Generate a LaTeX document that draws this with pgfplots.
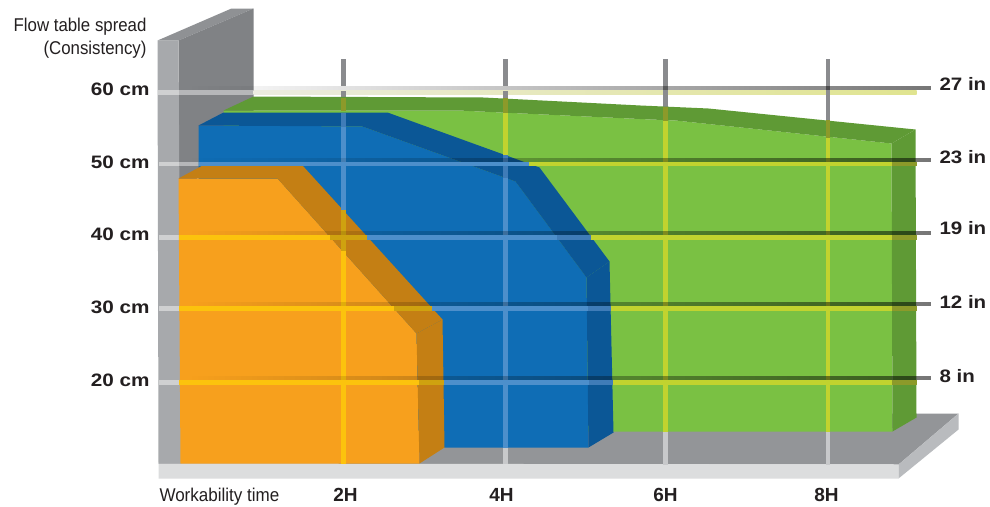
\documentclass[border=0pt]{standalone}
\usepackage{graphicx}
\usepackage{fontspec}
\setmainfont{Liberation Sans}
\usepackage{pgfplots}
\pgfplotsset{compat=1.18}
\usetikzlibrary{fadings}

% Surface colours
\definecolor{ink}{HTML}{231F20}
\definecolor{wallfront}{HTML}{A7A9AC}
\definecolor{wallside}{HTML}{808285}
\definecolor{walltop}{HTML}{8F9194}
\definecolor{floortop}{HTML}{939598}
\definecolor{floorfront}{HTML}{DCDDDE}
\definecolor{floorside}{HTML}{B9BBBE}
\definecolor{greenfront}{HTML}{7AC143}
\definecolor{greendark}{HTML}{5F9A35}
\definecolor{bluefront}{HTML}{0F6DB5}
\definecolor{bluedark}{HTML}{0B5796}
\definecolor{orangefront}{HTML}{F7A01D}
\definecolor{orangedark}{HTML}{C47F14}
% Grid colours where a line crosses each surface
\definecolor{gridgrey}{HTML}{8A8B8E}
\definecolor{gridwall}{HTML}{CFD0D1}
\definecolor{gridwallside}{HTML}{B6B7B9}
\definecolor{gridfloor}{HTML}{C8C9CB}
\definecolor{gridorange}{HTML}{FCC30D}
\definecolor{gridorangedark}{HTML}{CFA20F}
\definecolor{gridblue}{HTML}{4D8FCB}
\definecolor{gridbluedark}{HTML}{3F7CB8}
\definecolor{gridgreen}{HTML}{C1D32F}
\definecolor{gridgreendark}{HTML}{8C9A2A}
\definecolor{topbandleft}{HTML}{EBEBE0}
\definecolor{topbandright}{HTML}{E0E48F}

% Horizontal back lines darken towards the right
\tikzfading[name=backline, left color=transparent!100, right color=transparent!46]

\tikzset{lbl/.style={inner sep=0pt, outer sep=0pt, text=ink}}

% rectangle: x1 x2 y1 y2 colour
\newcommand{\band}[5]{\addplot[draw=none,fill=#5] coordinates {(#1,#3)(#2,#3)(#2,#4)(#1,#4)} -- cycle;}
% dark back line: y1 y2
\newcommand{\backline}[2]{\addplot[draw=none,fill=black,path fading=backline] coordinates {(190,#1)(932,#1)(932,#2)(190,#2)} -- cycle;}

% text helpers: size, horizontal stretch, text
\newcommand{\lab}[3]{\fontsize{#1}{#1}\selectfont\scalebox{#2}[1]{#3}}
\newcommand{\boldlab}[3]{\fontsize{#1}{#1}\selectfont\scalebox{#2}[1]{\bfseries #3}}

\begin{document}
\begin{tikzpicture}
\begin{axis}[
  scale only axis, width=990pt, height=506pt,
  xmin=-0.5, xmax=989.5, ymin=-0.5, ymax=505.5, y dir=reverse,
  hide axis, clip=false,
]
% page extent
\addplot[draw=none,fill=white] coordinates {(-0.5,-0.5)(989.5,-0.5)(989.5,505.5)(-0.5,505.5)} -- cycle;

% floor slab
\addplot[draw=none,fill=floortop] coordinates {(158,463)(898,464)(958,413)(200,413)} -- cycle;
\addplot[draw=none,fill=floorfront] coordinates {(158,463)(898,464)(898,478)(158,478)} -- cycle;
\addplot[draw=none,fill=floorside] coordinates {(898,464)(958,413)(958,429)(898,478)} -- cycle;

% wall
\addplot[draw=none,fill=walltop] coordinates {(157,40)(231,8)(253,8)(178,40)} -- cycle;
\addplot[draw=none,fill=wallside] coordinates {(178,40)(253,8)(253,110)(178,200)} -- cycle;
\addplot[draw=none,fill=wallfront] coordinates {(157,40)(178,40)(180.5,463)(158,463)} -- cycle;

% grid lines on the wall
\band{157.5}{178}{89.5}{94}{gridwall}
\band{178}{253}{89.5}{94}{gridwallside}
\band{158}{178}{161}{165}{gridwall}
\band{178}{198}{161}{165}{gridwallside}
\band{158}{178}{234}{239}{gridwall}
\band{158}{178}{305}{310}{gridwall}
\band{158}{178}{379}{384}{gridwall}

% floor grid lines
\band{502}{507}{447}{463.5}{gridfloor}
\band{662}{667}{431}{464}{gridfloor}
\band{825}{829}{431}{464}{gridfloor}

% top band at 60 cm
\addplot[draw=none,left color=topbandleft,right color=topbandright] coordinates {(253,89.5)(916,89.5)(916,94)(253,94)} -- cycle;

% verticals above the volumes
\band{340}{345.5}{58}{85}{gridgrey}
\band{340}{345.5}{90}{97}{gridgrey}
\band{502}{507}{58}{85}{gridgrey}
\band{502}{507}{90}{97}{gridgrey}
\band{662}{667}{58}{106}{gridgrey}
\band{825}{829}{58}{119}{gridgrey}

% green volume
\addplot[draw=none,fill=greenfront] coordinates {(223,110)(458,110)(650,119)(675,120)(891,143)(892,431)(560,431)(560,300)(223,300)} -- cycle;
\addplot[draw=none,fill=greendark] coordinates {(223,110)(253,96)(483,97)(640,105)(708,108)(915,129)(891,143)(675,120)(650,119)(458,110)} -- cycle;
\addplot[draw=none,fill=greendark] coordinates {(891,143)(915,129)(916,417)(892,431)} -- cycle;

% blue volume
\addplot[draw=none,fill=bluefront] coordinates {(198,125)(362,126)(515,181)(586,277)(588,447)(300,447)(198,300)} -- cycle;
\addplot[draw=none,fill=bluedark] coordinates {(198,125)(223,112)(387,112)(539,167)(609,261)(586,277)(515,181)(362,126)} -- cycle;
\addplot[draw=none,fill=bluedark] coordinates {(586,277)(609,261)(613,432)(588,447)} -- cycle;

% orange volume
\addplot[draw=none,fill=orangefront] coordinates {(178,178)(277,178)(416,333)(419,463)(180,463)} -- cycle;
\addplot[draw=none,fill=orangedark] coordinates {(178,178)(202,165)(302,165)(442,319)(416,333)(277,178)} -- cycle;
\addplot[draw=none,fill=orangedark] coordinates {(416,333)(442,319)(444,447)(419,463)} -- cycle;

% vertical grid lines over the volumes
% 2H
\band{340}{345.5}{97}{110}{gridgreendark}
\band{340}{345.5}{112}{126}{gridbluedark}
\band{340}{345.5}{126}{209}{gridblue}
\band{340}{345.5}{209}{250}{gridorangedark}
\band{340}{345.5}{250}{463}{gridorange}
% 4H
\band{502}{507}{97}{112}{gridgreendark}
\band{502}{507}{112}{154}{gridgreen}
\band{502}{507}{154}{177}{gridbluedark}
\band{502}{507}{177}{447}{gridblue}
% 6H
\band{662}{667}{106}{120}{gridgreendark}
\band{662}{667}{120}{431}{gridgreen}
% 8H
\band{825}{829}{119}{137}{gridgreendark}
\band{825}{829}{137}{431}{gridgreen}

% front horizontal grid lines, surface by surface
% 50 cm
\band{198}{528}{161}{165}{gridblue}
\band{528}{891}{161.5}{165.5}{gridgreen}
\band{891}{916}{161.5}{165.5}{gridgreendark}
% 40 cm
\band{178}{329}{234}{239}{gridorange}
\band{329}{366}{234}{239}{gridorangedark}
\band{366}{556}{234}{239}{gridblue}
\band{556}{590}{234}{239}{gridbluedark}
\band{590}{891}{234}{239}{gridgreen}
\band{891}{916}{234}{239}{gridgreendark}
% 30 cm
\band{178}{393}{305}{310}{gridorange}
\band{393}{431}{305}{310}{gridorangedark}
\band{431}{587}{305}{310}{gridblue}
\band{587}{610}{305}{310}{gridbluedark}
\band{610}{891}{305}{310}{gridgreen}
\band{891}{916}{305}{310}{gridgreendark}
% 20 cm
\band{178}{418}{379}{384}{gridorange}
\band{418}{443}{379}{384}{gridorangedark}
\band{443}{588}{379}{384}{gridblue}
\band{588}{612}{379}{384}{gridbluedark}
\band{612}{891}{379}{384}{gridgreen}
\band{891}{916}{379}{384}{gridgreendark}

% back horizontal lines, fading in to the right
\backline{85}{89.5}
\backline{157.5}{161.5}
\backline{230.5}{234.5}
\backline{301.5}{305}
\backline{375}{379.5}

% left scale
\node[lbl,anchor=base east] at (axis cs:149,95) {\boldlab{18}{1.15}{60 cm}};
\node[lbl,anchor=base east] at (axis cs:149,167.5) {\boldlab{18}{1.15}{50 cm}};
\node[lbl,anchor=base east] at (axis cs:149,240) {\boldlab{18}{1.15}{40 cm}};
\node[lbl,anchor=base east] at (axis cs:149,313) {\boldlab{18}{1.15}{30 cm}};
\node[lbl,anchor=base east] at (axis cs:149,385.5) {\boldlab{18}{1.15}{20 cm}};

% right scale
\node[lbl,anchor=base west] at (axis cs:939,90) {\boldlab{18}{1.14}{27 in}};
\node[lbl,anchor=base west] at (axis cs:939,162.5) {\boldlab{18}{1.14}{23 in}};
\node[lbl,anchor=base west] at (axis cs:939,234) {\boldlab{18}{1.14}{19 in}};
\node[lbl,anchor=base west] at (axis cs:939,307.5) {\boldlab{18}{1.14}{12 in}};
\node[lbl,anchor=base west] at (axis cs:939,381.5) {\boldlab{18}{1.14}{8 in}};

% time axis
\node[lbl,anchor=base west] at (axis cs:159,501) {\lab{18.5}{0.92}{Workability time}};
\node[lbl,anchor=base] at (axis cs:345,501) {\boldlab{19}{1}{2H}};
\node[lbl,anchor=base] at (axis cs:501,501) {\boldlab{19}{1}{4H}};
\node[lbl,anchor=base] at (axis cs:665,501) {\boldlab{19}{1}{6H}};
\node[lbl,anchor=base] at (axis cs:826,501) {\boldlab{19}{1}{8H}};

% axis title
\node[lbl,anchor=base east] at (axis cs:146,31) {\lab{18.5}{0.91}{Flow table spread}};
\node[lbl,anchor=base east] at (axis cs:146,54) {\lab{18.5}{0.91}{(Consistency)}};
\end{axis}
\end{tikzpicture}
\end{document}
